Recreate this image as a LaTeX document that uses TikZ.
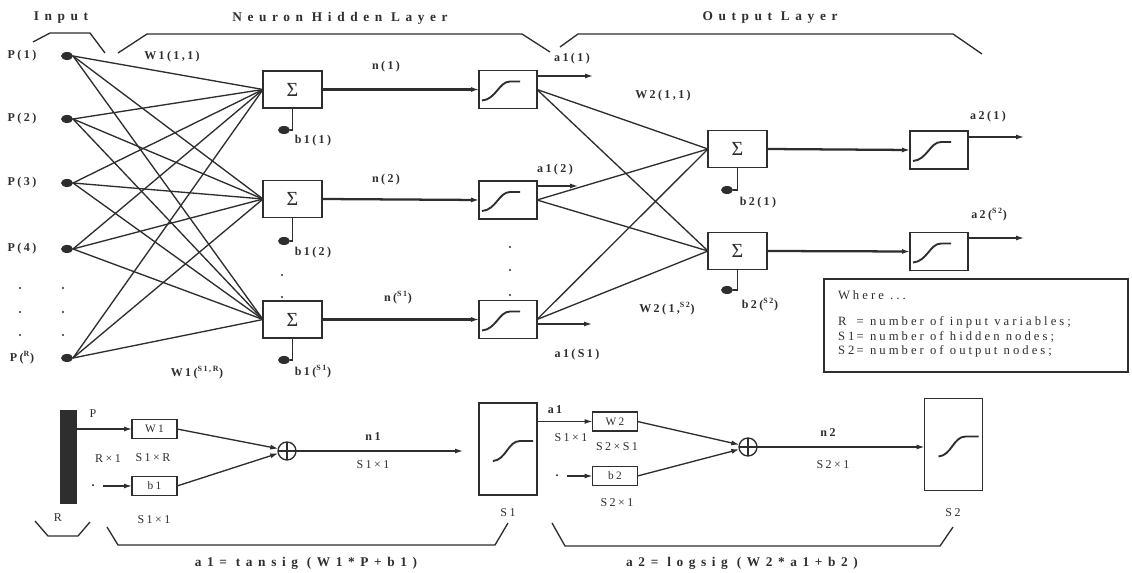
\documentclass[tikz,border=0pt]{standalone}
\usepackage{fontspec}
\setmainfont{Liberation Serif}
\newfontfamily\hdrfont[LetterSpace=42]{Liberation Serif}
\newfontfamily\lblfont[LetterSpace=20]{Liberation Serif}
\newfontfamily\legfont[LetterSpace=24]{Liberation Serif}
\usetikzlibrary{arrows.meta,shapes.geometric,calc}
\definecolor{ink}{gray}{0.18}
\begin{document}
\begin{tikzpicture}[x=0.75pt,y=-0.75pt,
  every node/.style={inner sep=0pt,outer sep=0pt},
  wire/.style={draw=ink,line width=1pt},
  thickwire/.style={draw=ink,line width=1.7pt},
  arr/.style={-{Latex[length=6pt,width=3.8pt]}},
  box/.style={draw=ink,line width=1.2pt,fill=white},
  sumbox/.style={box,minimum width=44.25pt,minimum height=27.75pt,font=\fontsize{15}{15}\selectfont,text=ink},
  sigbox/.style={box,minimum width=43.5pt,minimum height=28.5pt},
  smallbox/.style={box,minimum width=33.75pt,minimum height=14.25pt,font=\lblfont\fontsize{8.5}{8.5}\selectfont,text=ink},
  bigbox/.style={box,minimum width=43.5pt,minimum height=69pt},
  dotnode/.style={ellipse,fill=ink,minimum width=9pt,minimum height=6pt},
  tinydot/.style={circle,fill=ink,minimum size=1.8pt},
  lbl/.style={text=ink,font=\lblfont\bfseries\fontsize{9}{10}\selectfont},
  dimlbl/.style={text=ink,font=\lblfont\fontsize{9}{10}\selectfont},
  hdr/.style={text=ink,font=\hdrfont\bfseries\fontsize{10}{11}\selectfont},
  legtxt/.style={text=ink,font=\legfont\fontsize{9.5}{10}\selectfont,anchor=west},
  osum/.style={circle,draw=ink,line width=1pt,minimum size=13.5pt},
  brace/.style={draw=ink,line width=1pt},
  curve/.style={draw=ink,line width=1.4pt},
  sigcurve/.pic={\draw[curve] (-26,11) .. controls (-12,10) and (-9,-8) .. (2,-8) -- (12,-8);},
  bigcurve/.pic={\draw[curve] (-15,12) .. controls (-2,11) and (0,-8) .. (12,-8) -- (25,-8);}
]
\useasboundingbox (0,0) rectangle (1132,573);
\fill[white] (0,0) rectangle (1132,573);

% ---------- headers and top brackets
\node[hdr] (hin) at (61,18) {Input};
\node[hdr] (hhid) at (340,18) {Neuron Hidden Layer};
\node[hdr] (hout) at (770,18) {Output Layer};
\draw[brace] (33,42) -- (50,33) -- (90,33) -- (105,53);
\draw[brace] (118,53) -- (147,34) -- (522,34) -- (550,52);
\draw[brace] (560,47) -- (578,34) -- (953,34) -- (982,54);

% ---------- inputs
\node[dotnode] (p1) at (67,56) {};
\node[dotnode] (p2) at (67,119) {};
\node[dotnode] (p3) at (67,183) {};
\node[dotnode] (p4) at (67,249) {};
\node[dotnode] (pR) at (67,358) {};
\node[lbl] (lp1) at (22,56) {P(1)};
\node[lbl] (lp2) at (22,119) {P(2)};
\node[lbl] (lp3) at (22,183) {P(3)};
\node[lbl] (lp4) at (22,249) {P(4)};
\node[lbl] (lpR) at (22,358) {P(\textsuperscript{R})};
\foreach \yy [count=\k] in {288,312,335}{
  \node[tinydot] (ldl\k) at (20,\yy) {};
  \node[tinydot] (ldr\k) at (63,\yy) {};
}

% ---------- hidden summation boxes
\node[sumbox] (s1) at (292.5,89.5) {Σ};
\node[sumbox] (s2) at (292.5,199) {Σ};
\node[sumbox] (s3) at (292.5,319.5) {Σ};
\foreach \p in {p1,p2,p3,p4,pR}
  \foreach \s in {s1,s2,s3}
    \draw[wire] (\p.east) -- (\s.west);
\node[sumbox] at (s1) {Σ};
\node[sumbox] at (s2) {Σ};
\node[sumbox] at (s3) {Σ};

\node[lbl] (w111) at (172,57) {W1(1,1)};
\node[lbl] (w1sr) at (197,373) {W1(\textsuperscript{S1,R})};

% biases
\node[dotnode] (bd1) at (284,130) {};
\node[dotnode] (bd2) at (284,241) {};
\node[dotnode] (bd3) at (284,360) {};
\draw[wire] (s1.south) |- (bd1.east);
\draw[wire] (s2.south) |- (bd2.east);
\draw[wire] (s3.south) |- (bd3.east);
\node[lbl] (lb1) at (313,141) {b1(1)};
\node[lbl] (lb2) at (313,253) {b1(2)};
\node[lbl] (lb3) at (313,372) {b1(\textsuperscript{S1})};
\node[tinydot] (vd1) at (282,275) {};
\node[tinydot] (vd2) at (282,297) {};

% ---------- hidden transfer boxes
\node[sigbox] (h1) at (508,89.5) {};
\node[sigbox] (h2) at (508,200) {};
\node[sigbox] (h3) at (508,319.5) {};
\foreach \h in {h1,h2,h3} \pic at (\h.center) {sigcurve};
\draw[thickwire,arr] (s1.east) -- (h1.west);
\draw[thickwire,arr] (s2.east) -- (h2.west);
\draw[thickwire,arr] (s3.east) -- (h3.west);
\node[lbl] (ln1) at (386,67) {n(1)};
\node[lbl] (ln2) at (386,180) {n(2)};
\node[lbl] (ln3) at (398,298) {n(\textsuperscript{S1})};
\node[tinydot] (hd1) at (510,247) {};
\node[tinydot] (hd2) at (510,270) {};
\node[tinydot] (hd3) at (510,295) {};

% a1 outputs
\coordinate (a1e1) at (593,76);
\coordinate (a1e2) at (578,186);
\coordinate (a1e3) at (592,324);
\draw[wire,arr] (h1.east |- a1e1) -- (a1e1);
\draw[wire,arr] (h2.east |- a1e2) -- (a1e2);
\draw[wire,arr] (h3.east |- a1e3) -- (a1e3);
\node[lbl] (la11) at (572,59) {a1(1)};
\node[lbl] (la12) at (555,170) {a1(2)};
\node[lbl] (la13) at (577,355) {a1(S1)};

% ---------- output layer
\node[sumbox] (o1) at (737.5,149) {Σ};
\node[sumbox] (o2) at (737.5,251) {Σ};
\foreach \h in {h1,h2,h3}
  \foreach \o in {o1,o2}
    \draw[wire] (\h.east) -- (\o.west);
\node[sumbox] at (o1) {Σ};
\node[sumbox] at (o2) {Σ};
\node[lbl] (lw211) at (663,96) {W2(1,1)};
\node[lbl] (lw21s) at (667,309) {W2(1,\textsuperscript{S2})};
\node[dotnode] (bo1) at (727,190) {};
\node[dotnode] (bo2) at (727,290) {};
\draw[wire] (o1.south) |- (bo1.east);
\draw[wire] (o2.south) |- (bo2.east);
\node[lbl] (lbo1) at (758,203) {b2(1)};
\node[lbl] (lbo2) at (760,305) {b2(\textsuperscript{S2})};

\node[sigbox] (q1) at (939,150) {};
\node[sigbox] (q2) at (939,251.5) {};
\foreach \q in {q1,q2} \pic at (\q.center) {sigcurve};
\draw[thickwire,arr] (o1.east) -- (q1.west);
\draw[thickwire,arr] (o2.east) -- (q2.west);
\coordinate (a2e1) at (1024,137);
\coordinate (a2e2) at (1024,238);
\draw[wire,arr] (q1.east |- a2e1) -- (a2e1);
\draw[wire,arr] (q2.east |- a2e2) -- (a2e2);
\node[lbl] (la21) at (988,117) {a2(1)};
\node[lbl] (la22) at (989,215) {a2(\textsuperscript{S2})};

% ---------- legend
\node[draw=ink,line width=1.2pt,minimum width=228pt,minimum height=69.75pt] (leg) at (976,325.5) {};
\node[legtxt] (lg0) at (838,295) {Where ...};
\node[legtxt] (lg1) at (838,322) {\makebox[14pt][l]{R}= number of input variables;};
\node[legtxt] (lg2) at (838,337) {\makebox[14pt][l]{S1}= number of hidden nodes;};
\node[legtxt] (lg3) at (838,351) {\makebox[14pt][l]{S2}= number of output nodes;};

% ---------- bottom: matrix form
\node[fill=ink,minimum width=12.75pt,minimum height=70.5pt] (bar) at (68.5,457) {};
\node[dimlbl] (lP) at (93,414) {P};
\node[dimlbl] (lR) at (58,518) {R};
\node[smallbox] (W1) at (154.5,429) {W1};
\node[smallbox] (b1) at (154.5,486) {b1};
\node[lbl] (one1) at (93,486) {.};
\node[dimlbl] (lRx1) at (108,459) {R×1};
\node[dimlbl] (lS1R) at (153,458) {S1×R};
\node[dimlbl] (lS11) at (154,520) {S1×1};
\node[osum] (sum1) at (287,451) {};
\draw[wire] (sum1.north) -- (sum1.south) (sum1.west) -- (sum1.east);
\draw[wire,arr] (bar.east |- W1.west) -- (W1.west);
\draw[wire,arr] ([xshift=6pt]one1.east |- b1.west) -- (b1.west);
\draw[wire,arr] (W1.east) -- (sum1.165);
\draw[wire,arr] (b1.east) -- (sum1.195);

\node[bigbox] (bs1) at (508,449) {};
\pic at (bs1.center) {bigcurve};
\draw[wire,arr,shorten >=12pt] (sum1.east) -- (sum1.east -| bs1.west);
\node[lbl] (ln1b) at (373,437) {n1};
\node[dimlbl] (lS11b) at (373,465) {S1×1};
\node[dimlbl] (lS1) at (508,513) {S1};

\node[smallbox] (W2) at (615,421.5) {W2};
\node[smallbox] (b2) at (615,476) {b2};
\node[lbl] (one2) at (557,476) {.};
\draw[wire,arr] (W2.west -| bs1.east) -- (W2.west);
\draw[wire,arr] ([xshift=6pt]one2.east |- b2.west) -- (b2.west);
\node[lbl] (la1b) at (555,410) {a1};
\node[dimlbl] (lS11c) at (571,438) {S1×1};
\node[dimlbl] (lS2S1) at (617,447) {S2×S1};
\node[dimlbl] (lS21) at (617,503) {S2×1};
\node[osum] (sum2) at (748,447) {};
\draw[wire] (sum2.north) -- (sum2.south) (sum2.west) -- (sum2.east);
\draw[wire,arr] (W2.east) -- (sum2.165);
\draw[wire,arr] (b2.east) -- (sum2.195);

\node[bigbox] (bs2) at (953.5,444.5) {};
\pic at (bs2.center) {bigcurve};
\draw[wire,arr] (sum2.east) -- (sum2.east -| bs2.west);
\node[lbl] (ln2b) at (828,433) {n2};
\node[dimlbl] (lS21b) at (833,465) {S2×1};
\node[dimlbl] (lS2) at (953,513) {S2};

% bottom brackets and formulas
\draw[brace] (35,521) -- (48,536) -- (78,536) -- (90,522);
\draw[brace] (107,527) -- (118,545) -- (495,545) -- (508,523);
\draw[brace] (552,523) -- (565,546) -- (940,546) -- (953,527);
\node[hdr] (f1) at (306,563) {a1= tansig (W1*P+b1)};
\node[hdr] (f2) at (742,563) {a2= logsig (W2*a1+b2)};
\end{tikzpicture}
\end{document}
